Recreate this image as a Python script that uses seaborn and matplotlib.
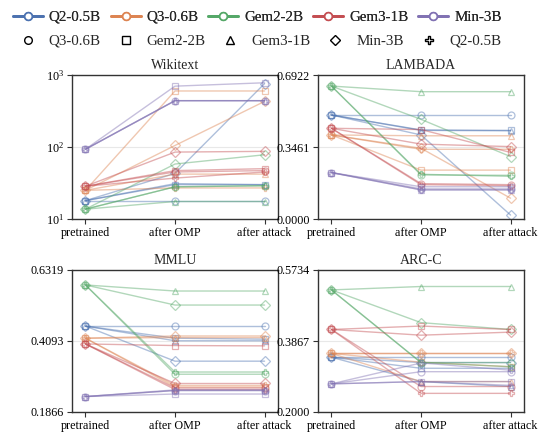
import matplotlib
matplotlib.use("Agg")
import matplotlib.pyplot as plt
from matplotlib.lines import Line2D
import seaborn as sns
import pandas as pd

sns.set_theme(style="ticks")
plt.rcParams['font.family'] = ['Liberation Serif', 'DejaVu Serif']
plt.rcParams['mathtext.fontset'] = 'stix'

models = ["Q2-0.5B", "Q3-0.6B", "Gem2-2B", "Gem3-1B", "Min-3B"]
marker_order = ["Q3-0.6B", "Gem2-2B", "Gem3-1B", "Min-3B", "Q2-0.5B"]
marker_shapes = ["o", "s", "^", "D", "P"]
stages = ["pretrained", "after OMP", "after attack"]
palette = sns.color_palette("deep", 5)

# Sources per target (all other models), order: as in `models` without the target
# Wikitext (perplexity)
wiki_pre = [18, 25, 13.7, 28.5, 93]
wiki_omp = [[18, 30, 31, 43],        # Q2 <- Q3, Gem2, Gem3, Min
            [27, 600, 42, 105],      # Q3 <- Q2, Gem2, Gem3, Min
            [28, 28, 17.5, 58],      # Gem2 <- Q2, Q3, Gem3, Min
            [37, 45, 47, 85],        # Gem3 <- Q2, Q3, Gem2, Min
            [440, 440, 700, 440]]    # Min <- Q2, Q3, Gem2, Gem3
wiki_att = [[18, 30, 30, 760],
            [27, 600, 42, 430],
            [29, 29, 17.5, 78],
            [45, 47, 50, 87],
            [440, 440, 780, 440]]

# LAMBADA
lamb_pre = [0.50, 0.404, 0.639, 0.436, 0.223]
lamb_omp = [[0.50, 0.428, 0.426, 0.404],
            [0.335, 0.235, 0.40, 0.34],
            [0.215, 0.212, 0.612, 0.479],
            [0.165, 0.17, 0.43, 0.36],
            [0.14, 0.145, 0.155, 0.14]]
lamb_att = [[0.50, 0.426, 0.424, 0.019],
            [0.335, 0.235, 0.40, 0.10],
            [0.205, 0.21, 0.612, 0.30],
            [0.16, 0.165, 0.32, 0.348],
            [0.14, 0.145, 0.155, 0.14]]

# MMLU
mmlu_pre = [0.456, 0.418, 0.585, 0.40, 0.235]
mmlu_omp = [[0.456, 0.418, 0.41, 0.346],
            [0.27, 0.265, 0.42, 0.425],
            [0.312, 0.305, 0.566, 0.522],
            [0.257, 0.262, 0.395, 0.276],
            [0.254, 0.254, 0.243, 0.256]]
mmlu_att = [[0.456, 0.415, 0.41, 0.346],
            [0.27, 0.265, 0.42, 0.425],
            [0.312, 0.305, 0.566, 0.522],
            [0.257, 0.262, 0.394, 0.276],
            [0.254, 0.254, 0.243, 0.256]]

# ARC-C
arc_pre = [0.344, 0.354, 0.521, 0.417, 0.274]
arc_omp = [[0.344, 0.315, 0.28, 0.33],
           [0.354, 0.331, 0.28, 0.354],
           [0.33, 0.33, 0.530, 0.435],
           [0.249, 0.267, 0.426, 0.402],
           [0.329, 0.306, 0.28, 0.28]]
arc_att = [[0.344, 0.315, 0.267, 0.33],
           [0.354, 0.319, 0.28, 0.354],
           [0.319, 0.33, 0.530, 0.417],
           [0.249, 0.267, 0.417, 0.41],
           [0.31, 0.306, 0.28, 0.27]]

bench_names = ["Wikitext", "LAMBADA", "MMLU", "ARC-C"]
bench_data = [(wiki_pre, wiki_omp, wiki_att),
              (lamb_pre, lamb_omp, lamb_att),
              (mmlu_pre, mmlu_omp, mmlu_att),
              (arc_pre, arc_omp, arc_att)]
bench_ticks = [[10, 100, 1000],
               [0.0, 0.3461, 0.6922],
               [0.1866, 0.4093, 0.6319],
               [0.2000, 0.3867, 0.5734]]


def build_df(pre, omp, att):
    rows = []
    for ti, tgt in enumerate(models):
        srcs = [m for m in models if m != tgt]
        for si, src in enumerate(srcs):
            vals = [pre[ti], omp[ti][si], att[ti][si]]
            for st, v in zip(stages, vals):
                rows.append(dict(target=tgt, source=src, stage=st, value=v))
    return pd.DataFrame(rows)


fig = plt.figure(figsize=(5.45, 4.38), dpi=100)
positions = [
    [72/545, 1-219/438, (278-72)/545, (219-75)/438],
    [318/545, 1-219/438, (524-318)/545, (219-75)/438],
    [72/545, 1-412/438, (278-72)/545, (412-270)/438],
    [318/545, 1-412/438, (524-318)/545, (412-270)/438],
]
marker_map = dict(zip(marker_order, marker_shapes))
hue_map = dict(zip(models, palette))

for k in range(4):
    ax = fig.add_axes(positions[k])
    df = build_df(*bench_data[k])
    sns.lineplot(data=df, x="stage", y="value", hue="target", style="source",
                 hue_order=models, style_order=marker_order,
                 palette=hue_map, markers=marker_map, dashes=False,
                 sort=False, ax=ax, legend=False, linewidth=1.0, alpha=0.45,
                 markersize=5.0)
    for ln in ax.lines:
        c = ln.get_color()
        ln.set_markerfacecolor("none")
        ln.set_markeredgecolor(c)
        ln.set_markeredgewidth(0.9)
    ax.set_title(bench_names[k], fontsize=10, pad=4)
    ax.set_xlabel("")
    ax.set_ylabel("")
    ax.set_xlim(-0.15, 2.15)
    ticks = bench_ticks[k]
    if k == 0:
        ax.set_yscale("log")
        ax.set_ylim(10, 1000)
        ax.set_yticks(ticks)
        ax.minorticks_off()
    else:
        ax.set_ylim(ticks[0], ticks[-1])
        ax.set_yticks(ticks)
        ax.set_yticklabels([f"{t:.4f}" for t in ticks])
    ax.yaxis.grid(True, color="#e8e8e8", linewidth=0.8)
    ax.set_axisbelow(True)
    ax.tick_params(axis="both", labelsize=8.7, length=3.5, width=0.8,
                   colors="#333333", labelcolor="black", pad=2.5)
    for sp in ax.spines.values():
        sp.set_visible(True)
        sp.set_color("#333333")
        sp.set_linewidth(1.0)

h1 = [Line2D([0], [0], color=palette[i], lw=2, marker="o", markersize=5.5,
             markerfacecolor="white", markeredgewidth=1.2) for i in range(5)]
leg1 = fig.legend(h1, models, loc="center", bbox_to_anchor=(0.472, 0.961), ncol=5,
                  frameon=False, fontsize=10.8, handlelength=2.0, handletextpad=0.4,
                  columnspacing=0.65)
h2 = [Line2D([0], [0], color="black", lw=0, marker=m, markersize=5.5,
             markerfacecolor="none", markeredgewidth=1.0) for m in marker_shapes]
fig.legend(h2, marker_order, loc="center", bbox_to_anchor=(0.472, 0.906), ncol=5,
           frameon=False, fontsize=10.8, handlelength=2.0, handletextpad=0.4,
           columnspacing=0.65)
fig.add_artist(leg1)

fig.savefig("out.png", dpi=100)
